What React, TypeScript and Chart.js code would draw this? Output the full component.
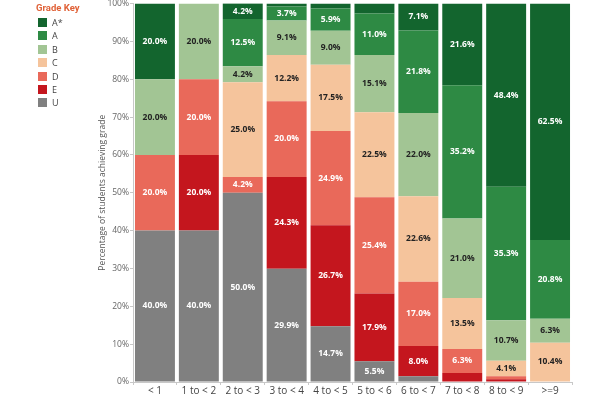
import React, { useEffect, useRef } from "react";
import { Chart, registerables } from "chart.js";

Chart.register(...registerables);

const categories = ["< 1", "1 to < 2", "2 to < 3", "3 to < 4", "4 to < 5", "5 to < 6", "6 to < 7", "7 to < 8", "8 to < 9", ">=9"];
const gradeU = [40, 40, 50, 29.9, 14.7, 5.5, 1.5, 0, 0, 0];
const gradeE = [0, 20, 0, 24.3, 26.7, 17.9, 8.0, 2.4, 0.7, 0];
const gradeD = [20, 20, 4.2, 20.0, 24.9, 25.4, 17.0, 6.3, 0.8, 0];
const gradeC = [0, 0, 25.0, 12.2, 17.5, 22.5, 22.6, 13.5, 4.1, 10.4];
const gradeB = [20, 20, 4.2, 9.1, 9.0, 15.1, 22.0, 21.0, 10.7, 6.3];
const gradeA = [0, 0, 12.5, 3.7, 5.9, 11.0, 21.8, 35.2, 35.3, 20.8];
const gradeAStar = [20, 0, 4.2, 0.8, 1.3, 2.6, 7.1, 21.6, 48.4, 62.5];

const gradeNames = ["U", "E", "D", "C", "B", "A", "A*"];
const gradeColors = ["#808080", "#c4161e", "#e9695a", "#f5c49c", "#a2c594", "#2e8a44", "#13652e"];
const labelColors = ["#ffffff", "#ffffff", "#ffffff", "#222222", "#222222", "#ffffff", "#ffffff"];
const gradeValues = [gradeU, gradeE, gradeD, gradeC, gradeB, gradeA, gradeAStar];

const FONT = "'Open Sans', 'DejaVu Sans', sans-serif";

const labelPlugin = {
  id: "segLabels",
  afterDatasetsDraw(chart: any) {
    const ctx = chart.ctx;
    ctx.save();
    ctx.font = `bold 8.5px ${FONT}`;
    ctx.textAlign = "center";
    ctx.textBaseline = "middle";
    chart.data.datasets.forEach((ds: any, di: number) => {
      const meta = chart.getDatasetMeta(di);
      meta.data.forEach((el: any, i: number) => {
        const v = ds.data[i];
        if (v < 3.5) return;
        const yc = (el.y + el.base) / 2;
        ctx.fillStyle = labelColors[di];
        ctx.fillText(v.toFixed(1) + "%", el.x, yc);
      });
    });
    ctx.restore();
  },
};

export default function App() {
  const ref = useRef<HTMLCanvasElement>(null);
  useEffect(() => {
    const chart = new Chart(ref.current!, {
      type: "bar",
      data: {
        labels: categories,
        datasets: gradeNames.map((n, i) => ({
          label: n,
          data: gradeValues[i],
          backgroundColor: gradeColors[i],
          borderWidth: 0,
          barPercentage: 0.91,
          categoryPercentage: 1,
        })),
      },
      options: {
        animation: false,
        responsive: true,
        maintainAspectRatio: false,
        devicePixelRatio: 1,
        layout: { padding: { left: 97, right: 28, top: 3, bottom: 0 } },
        plugins: { legend: { display: false }, tooltip: { enabled: false } },
        scales: {
          x: {
            stacked: true,
            grid: { drawOnChartArea: false, offset: true, tickLength: 3, color: "#c8c8c8" },
            border: { color: "#c8c8c8" },
            ticks: { color: "#444", padding: 0, font: { size: 10, family: FONT } },
            afterFit: (s: any) => { s.height = 18; },
          },
          y: {
            stacked: true,
            min: 0,
            max: 100,
            grid: { drawOnChartArea: false, tickLength: 3, color: "#c8c8c8" },
            border: { color: "#c8c8c8" },
            ticks: {
              stepSize: 10,
              color: "#666",
              padding: 1,
              font: { size: 8.5, family: FONT, lineHeight: 0.6 },
              callback: (v: any) => v + "%",
            },
            title: {
              display: true,
              text: "Percentage of students achieving grade",
              color: "#555",
              padding: 0,
              font: { size: 8.5, family: FONT },
            },
            afterFit: (s: any) => { s.width = 36; },
          },
        },
      },
      plugins: [labelPlugin],
    });
    return () => chart.destroy();
  }, []);

  const legendOrder = [6, 5, 4, 3, 2, 1, 0];
  return (
    <div style={{ position: "absolute", left: 0, top: 0, width: 600, height: 400, background: "#fff" }}>
      <canvas ref={ref} />
      <div style={{ position: "absolute", left: 36, top: 2, fontFamily: "Roboto, sans-serif", fontSize: 9.5, fontWeight: "bold", color: "#e06238" }}>
        Grade Key
      </div>
      {legendOrder.map((gi, k) => (
        <div key={gi} style={{ position: "absolute", left: 38, top: 16 + k * 13.4, display: "flex", alignItems: "center", fontFamily: FONT, fontSize: 9, color: "#444" }}>
          <div style={{ width: 9, height: 9, background: gradeColors[gi], marginRight: 5 }} />
          <span>{gradeNames[gi]}</span>
        </div>
      ))}
    </div>
  );
}
